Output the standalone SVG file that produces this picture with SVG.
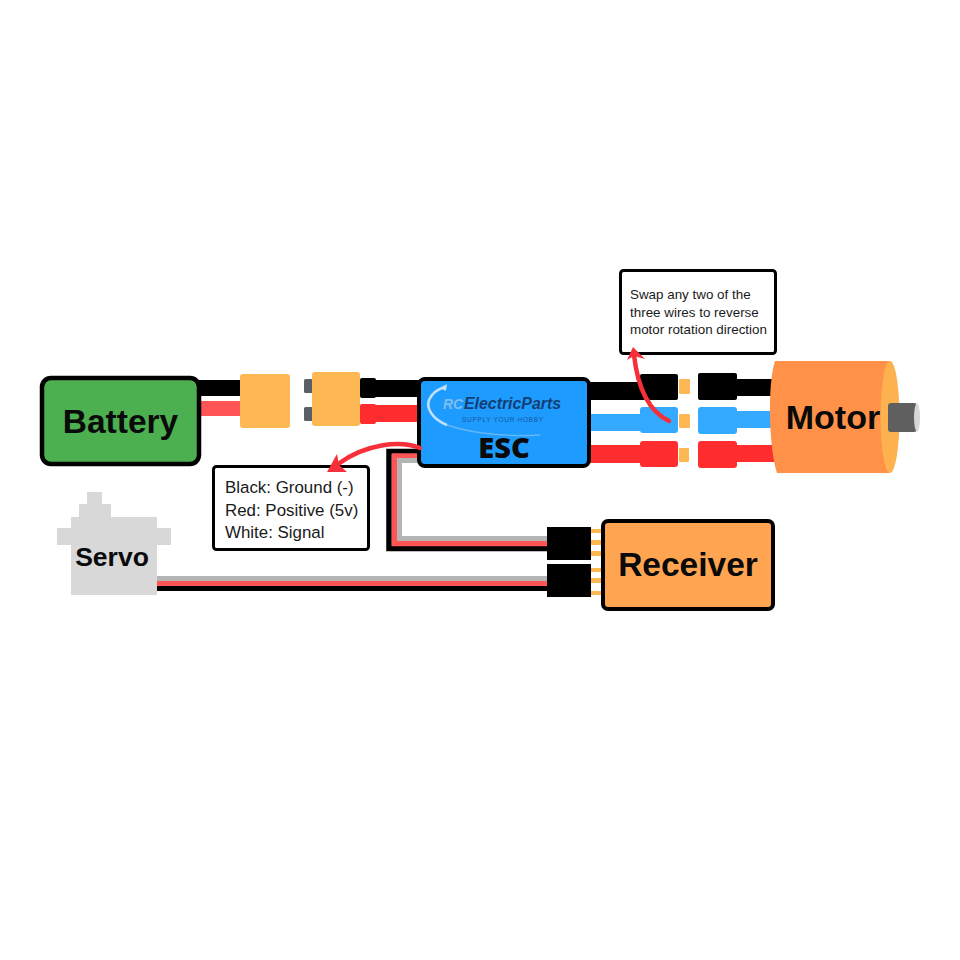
<svg xmlns="http://www.w3.org/2000/svg" width="960" height="960" viewBox="0 0 960 960">
<style>
.lbl{font-family:"Liberation Sans",Arial,sans-serif;font-weight:700;fill:#0a0a0a;text-anchor:middle}
.note{font-family:"Liberation Sans",Arial,sans-serif;fill:#1a1a1a}
.box{fill:#fff;stroke:#000;stroke-width:3}
.gold{fill:#FDB853}
.blk{fill:#000}.red{fill:#FF2D2D}.blu{fill:#33A9FF}.lred{fill:#FF5555}.gry{fill:#B5B5B5}
.arrow{fill:none;stroke:#F5303A;stroke-width:4.500;stroke-linecap:round}
</style>
<rect width="960" height="960" fill="#fff"/>
<g id="connectors">
<rect class="blk" x="198" y="380" width="44" height="16"/>
<rect class="lred" x="198" y="401" width="44" height="15"/>
<rect class="blk" x="360" y="378" width="16" height="20" rx="2"/>
<rect class="blk" x="374" y="380" width="46" height="17"/>
<rect class="red" x="360" y="404" width="16" height="20" rx="2"/>
<rect class="red" x="374" y="405" width="46" height="17"/>
<rect class="blk" x="589" y="382" width="54" height="18"/>
<rect class="blu" x="589" y="414" width="54" height="17"/>
<rect class="red" x="589" y="445" width="54" height="18"/>
<rect class="blk" x="735" y="379" width="40" height="17"/>
<rect class="blu" x="735" y="411" width="40" height="17"/>
<rect class="red" x="735" y="445" width="40" height="17"/>
<path d="M420 451.500H389V548.500H549" fill="none" stroke="#000" stroke-width="5.500"/>
<path d="M420 456H394.500V543.500H549" fill="none" stroke="#FF5555" stroke-width="5.500"/>
<path d="M420 460.500H399.500V538.500H549" fill="none" stroke="#B5B5B5" stroke-width="5"/>
<rect class="gry" x="155" y="576" width="394" height="5"/>
<rect class="lred" x="155" y="581" width="394" height="5"/>
<rect class="blk" x="155" y="586" width="394" height="5"/>
</g>
<g id="battery">
<rect x="42" y="378" width="157" height="86" rx="9" fill="#4CAF50" stroke="#000" stroke-width="4.500"/>
<text class="lbl" x="120.500" y="433" font-size="33.500">Battery</text>
</g>
<g id="xt60-male"><rect class="gold" x="240" y="374" width="50" height="54" rx="3"/></g>
<g id="xt60-female">
<rect x="304" y="379" width="9" height="14" rx="1.500" fill="#5A5F66"/>
<rect x="304" y="407" width="9" height="14" rx="1.500" fill="#5A5F66"/>
<rect class="gold" x="312" y="372" width="48" height="54" rx="3"/>
</g>
<g id="esc">
<rect x="419" y="379" width="170" height="87" rx="6" fill="#1E9BFF" stroke="#000" stroke-width="4"/>
<path d="M540 435C505 437 470 433 447 425" fill="none" stroke="#7FC2F5" stroke-width="1.500" opacity=".7"/>
<path d="M447 425C432 419 426 408 429 400C432 393 438 389 445 387" fill="none" stroke="#BFE0FA" stroke-width="2.500"/>
<path d="M447 384L446 391L440 388Z" fill="#BFE0FA"/>
<text x="443" y="409" font-family="&quot;Liberation Sans&quot;,Arial,sans-serif" font-size="15" font-weight="700" font-style="italic" fill="#7FBDEE" textLength="20" lengthAdjust="spacingAndGlyphs">RC</text>
<text x="464" y="409" font-family="&quot;Liberation Sans&quot;,Arial,sans-serif" font-size="16" font-weight="700" font-style="italic" fill="#123F73" textLength="97" lengthAdjust="spacingAndGlyphs">ElectricParts</text>
<text x="462" y="422" font-family="&quot;Liberation Sans&quot;,Arial,sans-serif" font-size="6.500" fill="#155A9C" textLength="81">SUPPLY YOUR HOBBY</text>
<text class="lbl" x="504" y="458" font-size="29" style="font-family:'Open Sans','Liberation Sans',sans-serif;font-weight:800">ESC</text>
</g>
<g id="plug-esc-black"><rect class="blk" x="640" y="374" width="38" height="26" rx="2"/><rect class="gold" x="679" y="379" width="11" height="15" rx="1"/></g>
<g id="plug-esc-blue"><rect class="blu" x="640" y="407" width="38" height="26" rx="3"/><rect class="gold" x="679" y="414" width="11" height="14" rx="1"/></g>
<g id="plug-esc-red"><rect class="red" x="640" y="441" width="38" height="26" rx="3"/><rect class="gold" x="679" y="448" width="10" height="14" rx="1"/></g>
<g id="plug-motor-black"><rect class="blk" x="698" y="373" width="39" height="27" rx="2"/></g>
<g id="plug-motor-blue"><rect class="blu" x="698" y="407" width="39" height="27" rx="3"/></g>
<g id="plug-motor-red"><rect class="red" x="698" y="441" width="39" height="27" rx="3"/></g>
<g id="motor">
<path d="M775 361H890V473H777C769 450 767 385 775 361Z" fill="#FF9248"/>
<ellipse cx="890" cy="417" rx="9.500" ry="56" fill="#FDB24F"/>
<rect x="888" y="403" width="29" height="29" rx="3" fill="#5F5F5F"/>
<ellipse cx="917" cy="417.500" rx="3" ry="14" fill="#D6D6D6"/>
<text class="lbl" x="833" y="429" font-size="34">Motor</text>
</g>
<g id="note-swap">
<rect class="box" x="620.500" y="270.500" width="155" height="83" rx="3"/>
<text class="note" font-size="13.400"><tspan x="630" y="299">Swap any two of the</tspan><tspan x="630" y="317">three wires to reverse</tspan><tspan x="630" y="334">motor rotation direction</tspan></text>
</g>
<g id="note-wires">
<rect class="box" x="213.500" y="466.500" width="155" height="83" rx="3"/>
<text class="note" font-size="16.900"><tspan x="225" y="493">Black: Ground (-)</tspan><tspan x="225" y="516">Red: Positive (5v)</tspan><tspan x="225" y="538">White: Signal</tspan></text>
</g>
<g id="servo">
<path d="M87 492H102V504H111V517H157V528H171V545H157V595H71V545H57V528H71V517H79V504H87Z" fill="#D8D8D8"/>
<text class="lbl" x="112" y="566" font-size="26.500">Servo</text>
</g>
<g id="servo-plug"><rect class="blk" x="547" y="527" width="44" height="33"/><rect class="blk" x="547" y="564" width="44" height="33"/></g>
<g id="receiver">
<rect class="gold" x="591" y="529" width="10" height="4"/><rect class="gold" x="591" y="540" width="10" height="5"/><rect class="gold" x="591" y="551" width="10" height="5"/>
<rect class="gold" x="591" y="568" width="10" height="4"/><rect class="gold" x="591" y="578" width="10" height="5"/><rect class="gold" x="591" y="591" width="10" height="4"/>
<rect x="603" y="521" width="170" height="88" rx="5" fill="#FFA552" stroke="#000" stroke-width="4"/>
<text class="lbl" x="688" y="576" font-size="33.500">Receiver</text>
</g>
<g id="annotation-arrows">
<path class="arrow" d="M669 421C650 412 638 390 634 355"/>
<path d="M633 347L645 359L634 356L627 360Z" fill="#F5303A"/>
<path class="arrow" d="M420 448C400 440 365 444 338 464"/>
<path d="M337 454L327 472L347 472L339 465Z" fill="#F5303A"/>
</g>
</svg>
